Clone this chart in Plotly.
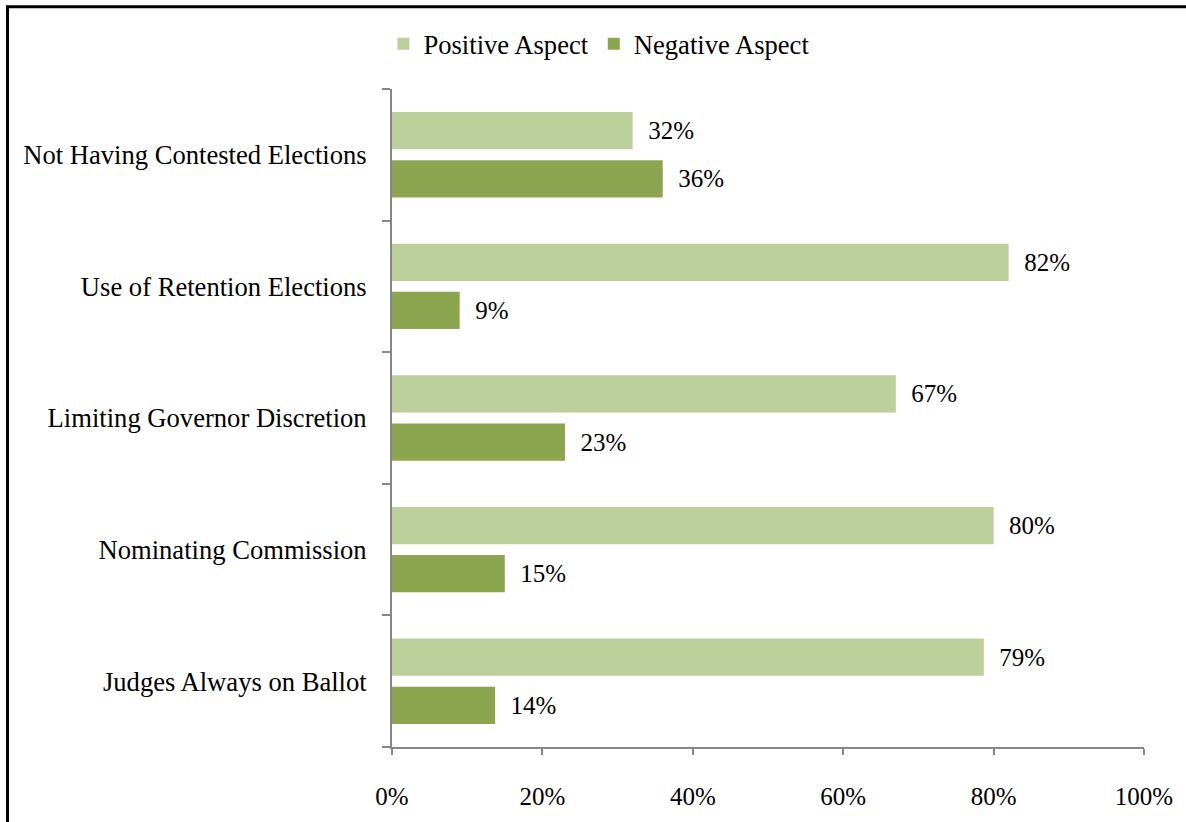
import plotly.graph_objects as go

categories = ["Not Having Contested Elections", "Use of Retention Elections",
              "Limiting Governor Discretion", "Nominating Commission",
              "Judges Always on Ballot"]
positive = [32, 82, 67, 80, 78.7]
negative = [36, 9, 23, 15, 13.7]
x_ticks = [0, 20, 40, 60, 80, 100]
x_tick_labels = ["0%", "20%", "40%", "60%", "80%", "100%"]

FONT = "Liberation Serif, Times New Roman, serif"
FS = 25
FS_CAT = 26.6
POS_COLOR = "#BBD09A"
NEG_COLOR = "#8BA64F"
AXIS_COLOR = "#868686"
NB = "\u00a0"

fig = go.Figure()
fig.add_trace(go.Bar(
    y=categories, x=negative, orientation="h", name="Negative Aspect",
    marker=dict(color=NEG_COLOR, line=dict(width=0)),
    texttemplate=NB * 2 + "%{x:.0f}%", textposition="outside",
    textfont=dict(family=FONT, size=FS, color="black"),
    constraintext="none", cliponaxis=False, hoverinfo="skip"))
fig.add_trace(go.Bar(
    y=categories, x=positive, orientation="h", name="Positive Aspect",
    marker=dict(color=POS_COLOR, line=dict(width=0)),
    texttemplate=NB * 2 + "%{x:.0f}%", textposition="outside",
    textfont=dict(family=FONT, size=FS, color="black"),
    constraintext="none", cliponaxis=False, hoverinfo="skip"))

W, H = 1186, 822
L, R, T, B = 392, 42, 89, 70
pw, ph = W - L - R, H - T - B

def px_x(p):
    return (p - L) / pw

def px_y(p):
    return (H - B - p) / ph

fig.update_layout(
    width=W, height=H,
    margin=dict(l=L, r=R, t=T, b=B, pad=0),
    paper_bgcolor="white", plot_bgcolor="white",
    font=dict(family=FONT, size=FS, color="black"),
    barmode="group", bargap=0.268, bargroupgap=0.227,
    showlegend=True,
    legend=dict(orientation="h", traceorder="reversed",
                xref="container", yref="container",
                x=0.505, xanchor="center", y=1 - 44 / H, yanchor="middle",
                font=dict(family=FONT, size=FS_CAT, color="black"),
                itemwidth=30, bgcolor="rgba(0,0,0,0)"),
    xaxis=dict(range=[0, 100], tickvals=x_ticks, ticktext=x_tick_labels,
               showgrid=False, zeroline=False, showline=True,
               linecolor=AXIS_COLOR, linewidth=2,
               ticks="outside", ticklen=6, tickwidth=2, tickcolor=AXIS_COLOR,
               ticklabelstandoff=20, fixedrange=True),
    yaxis=dict(categoryorder="array", categoryarray=categories[::-1],
               showgrid=False, zeroline=False, showline=True,
               linecolor=AXIS_COLOR, linewidth=2,
               tickfont=dict(family=FONT, size=FS_CAT, color="black"),
               ticks="outside", ticklen=8, tickwidth=2, tickcolor=AXIS_COLOR,
               tickson="boundaries", ticklabelstandoff=18, fixedrange=True),
    shapes=[dict(type="rect", xref="paper", yref="paper",
                 x0=px_x(7.5), x1=px_x(1200), y0=px_y(840), y1=px_y(6),
                 line=dict(color="black", width=3), fillcolor="rgba(0,0,0,0)",
                 layer="below")],
)

fig.write_html("out.html", config={"displayModeBar": False},
               post_script="document.body.style.margin='0';document.body.style.overflow='hidden';")
